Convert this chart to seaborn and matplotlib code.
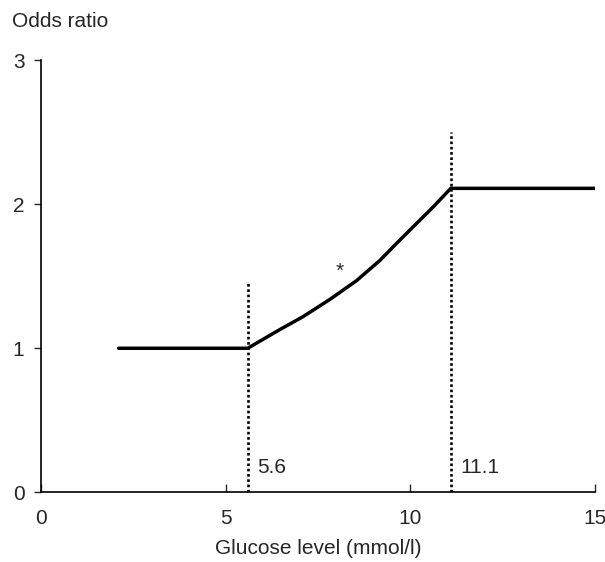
import numpy as np
import pandas as pd
import seaborn as sns
import matplotlib.pyplot as plt

# values
glucose = [2.1, 5.6, 6.0, 6.47, 7.10, 7.83, 8.55, 9.18, 9.6, 9.99, 10.62, 11.1, 15.0]
odds = [1.0, 1.0, 1.06, 1.13, 1.22, 1.34, 1.47, 1.61, 1.72, 1.82, 1.98, 2.11, 2.11]
cutoffs = [5.6, 11.1]
cutoff_tops = [1.47, 2.50]
cutoff_labels = ["5.6", "11.1"]
star_pos = (8.1, 1.47)

sns.set_style("ticks")
plt.rcParams['font.family'] = ['Liberation Sans', 'DejaVu Sans']
fs = 15

df = pd.DataFrame({'Glucose': glucose, 'Odds': odds})

fig = plt.figure(figsize=(6.05, 5.62), dpi=100)
ax = fig.add_axes([0.068, 0.124, 0.915, 0.769])

sns.lineplot(data=df, x='Glucose', y='Odds', color='black', linewidth=2.5, ax=ax)

for xc, top, lab in zip(cutoffs, cutoff_tops, cutoff_labels):
    ax.plot([xc, xc], [0, top], color='black', linestyle=(0, (1, 1)), linewidth=1.9)
    ax.text(xc + 0.25, 0.17, lab, fontsize=fs, va='center', ha='left')

ax.text(star_pos[0], star_pos[1], '*', fontsize=fs, ha='center', va='bottom')

ax.set_xlim(0, 15)
ax.set_ylim(0, 3)
ax.set_xticks([0, 5, 10, 15])
ax.set_yticks([0, 1, 2, 3])
ax.tick_params(axis='x', direction='in', length=6, labelsize=fs, pad=12, width=1)
ax.tick_params(axis='y', direction='out', length=5, labelsize=fs, pad=7, width=1)
for s in ['left', 'bottom']:
    ax.spines[s].set_linewidth(1.2)
    ax.spines[s].set_color('black')
sns.despine(ax=ax)

ax.set_xlabel('Glucose level (mmol/l)', fontsize=fs, labelpad=8)
ax.set_ylabel('')
fig.text(0.02, 0.961, 'Odds ratio', fontsize=fs, ha='left', va='center')

fig.savefig('out.png', dpi=100)
